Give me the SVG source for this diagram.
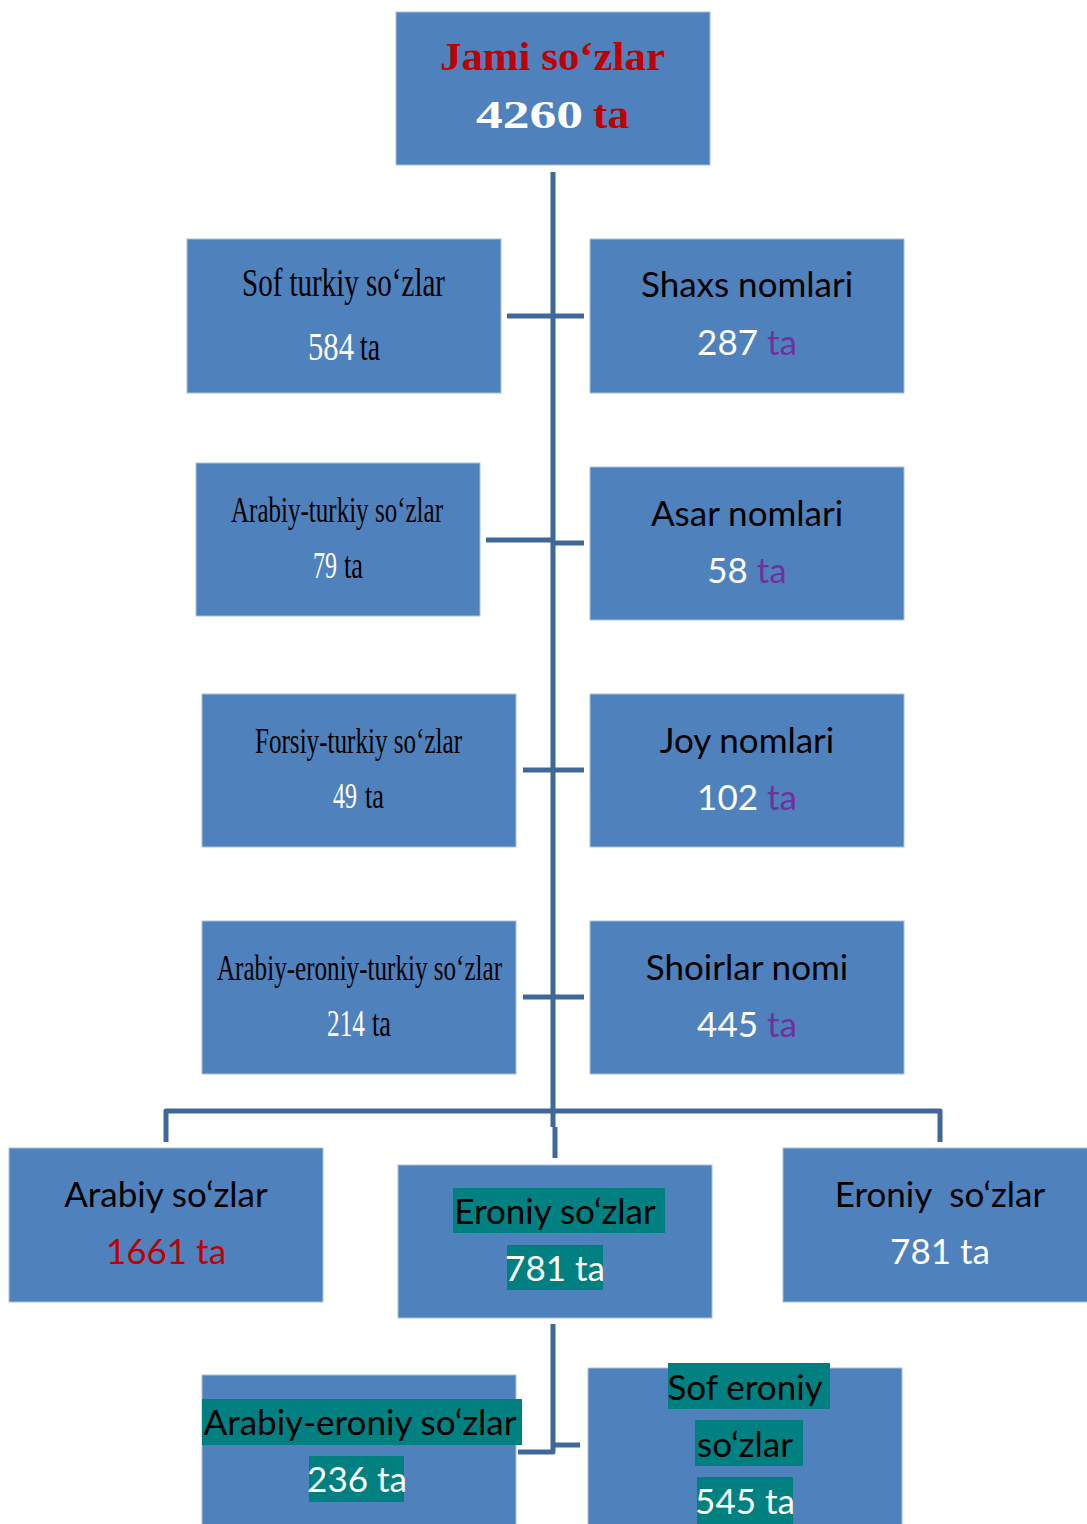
<svg xmlns="http://www.w3.org/2000/svg" width="1087" height="1524" viewBox="0 0 1087 1524">
<style>
.box{fill:#4F81BD;stroke:#A9C0DF;stroke-width:1}
.con{fill:none;stroke:#40679A;stroke-width:5;stroke-linejoin:round}
.hl{fill:#008080}
.ser{font-family:"Liberation Serif","DejaVu Serif",serif;fill:#000}
.bod{font-family:"Liberation Serif","DejaVu Serif",serif;font-weight:bold;font-size:40px}
.sans{font-family:Lato,"Liberation Sans",sans-serif;font-size:35px;fill:#000}
.w{fill:#FFFFFF}
.r{fill:#C00000}
.p{fill:#7030A0}
.k{fill:#000}
</style>
<g id="connectors">
<line class="con" x1="553" y1="172" x2="553" y2="1127"/>
<line class="con" x1="507" y1="316" x2="584" y2="316"/>
<line class="con" x1="486" y1="540" x2="553" y2="540"/>
<line class="con" x1="553" y1="543" x2="584" y2="543"/>
<line class="con" x1="523" y1="770" x2="584" y2="770"/>
<line class="con" x1="523" y1="997" x2="584" y2="997"/>
<polyline class="con" points="166,1142 166,1111 940,1111 940,1142"/>
<line class="con" x1="555" y1="1127" x2="555" y2="1158"/>
<polyline class="con" points="553,1324 553,1452 518,1452"/>
<line class="con" x1="553" y1="1445" x2="580" y2="1445"/>
</g>
<g id="jami">
<rect class="box" x="396" y="12" width="314" height="153"/>
<text class="bod r" x="440" y="70" textLength="225" lengthAdjust="spacingAndGlyphs">Jami so‘zlar</text>
<text class="bod" x="476" y="128"><tspan class="w" textLength="107" lengthAdjust="spacingAndGlyphs">4260</tspan><tspan class="r" x="593" textLength="36" lengthAdjust="spacingAndGlyphs">ta</tspan></text>
</g>
<g id="sof-turkiy">
<rect class="box" x="187" y="239" width="314" height="154"/>
<text class="ser" font-size="40" x="242" y="296" textLength="203" lengthAdjust="spacingAndGlyphs">Sof turkiy so‘zlar</text>
<g transform="translate(0,360) scale(1,1.333)">
<text class="ser" font-size="30" x="308" y="0"><tspan class="w" textLength="46" lengthAdjust="spacingAndGlyphs">584</tspan><tspan class="k" x="360" textLength="20" lengthAdjust="spacingAndGlyphs">ta</tspan></text>
</g>
</g>
<g id="shaxs">
<rect class="box" x="590" y="239" width="314" height="154"/>
<text class="sans" x="747" y="297" text-anchor="middle">Shaxs nomlari</text>
<text class="sans" x="747" y="355" text-anchor="middle"><tspan class="w">287</tspan><tspan class="p"> ta</tspan></text>
</g>
<g id="arabiy-turkiy">
<rect class="box" x="196" y="463" width="284" height="153"/>
<text class="ser" font-size="36" x="231" y="522" textLength="212" lengthAdjust="spacingAndGlyphs">Arabiy-turkiy so‘zlar</text>
<g transform="translate(0,578) scale(1,1.54)">
<text class="ser" font-size="24" x="313" y="0"><tspan class="w" textLength="24" lengthAdjust="spacingAndGlyphs">79</tspan><tspan class="k" x="344" textLength="19" lengthAdjust="spacingAndGlyphs">ta</tspan></text>
</g>
</g>
<g id="asar">
<rect class="box" x="590" y="467" width="314" height="153"/>
<text class="sans" x="747" y="526" text-anchor="middle">Asar nomlari</text>
<text class="sans" x="747" y="583" text-anchor="middle"><tspan class="w">58</tspan><tspan class="p"> ta</tspan></text>
</g>
<g id="forsiy-turkiy">
<rect class="box" x="202" y="694" width="314" height="153"/>
<text class="ser" font-size="36" x="255" y="753" textLength="207" lengthAdjust="spacingAndGlyphs">Forsiy-turkiy so‘zlar</text>
<g transform="translate(0,808) scale(1,1.5)">
<text class="ser" font-size="24" x="333" y="0"><tspan class="w" textLength="24" lengthAdjust="spacingAndGlyphs">49</tspan><tspan class="k" x="365" textLength="19" lengthAdjust="spacingAndGlyphs">ta</tspan></text>
</g>
</g>
<g id="joy">
<rect class="box" x="590" y="694" width="314" height="153"/>
<text class="sans" x="747" y="753" text-anchor="middle">Joy nomlari</text>
<text class="sans" x="747" y="810" text-anchor="middle"><tspan class="w">102</tspan><tspan class="p"> ta</tspan></text>
</g>
<g id="arabiy-eroniy-turkiy">
<rect class="box" x="202" y="921" width="314" height="153"/>
<text class="ser" font-size="36" x="217" y="980" textLength="285" lengthAdjust="spacingAndGlyphs">Arabiy-eroniy-turkiy so‘zlar</text>
<g transform="translate(0,1036) scale(1,1.46)">
<text class="ser" font-size="25.3" x="327" y="0"><tspan class="w" textLength="38" lengthAdjust="spacingAndGlyphs">214</tspan><tspan class="k" x="372" textLength="19" lengthAdjust="spacingAndGlyphs">ta</tspan></text>
</g>
</g>
<g id="shoirlar">
<rect class="box" x="590" y="921" width="314" height="153"/>
<text class="sans" x="747" y="980" text-anchor="middle">Shoirlar nomi</text>
<text class="sans" x="747" y="1037" text-anchor="middle"><tspan class="w">445</tspan><tspan class="p"> ta</tspan></text>
</g>
<g id="arabiy">
<rect class="box" x="9" y="1148" width="314" height="154"/>
<text class="sans" x="166" y="1207" text-anchor="middle">Arabiy so‘zlar</text>
<text class="sans r" x="166" y="1264" text-anchor="middle">1661 ta</text>
</g>
<g id="eroniy-mid">
<rect class="box" x="398" y="1165" width="314" height="153"/>
<rect class="hl" x="453" y="1188" width="212" height="45"/>
<rect class="hl" x="507" y="1245" width="96" height="45"/>
<text class="sans" x="555" y="1224" text-anchor="middle">Eroniy so‘zlar</text>
<text class="sans w" x="555" y="1281" text-anchor="middle">781 ta</text>
</g>
<g id="eroniy-right">
<rect class="box" x="783" y="1148" width="314" height="154"/>
<text class="sans" x="940" y="1207" text-anchor="middle" xml:space="preserve">Eroniy  so‘zlar</text>
<text class="sans w" x="940" y="1264" text-anchor="middle">781 ta</text>
</g>
<g id="arabiy-eroniy">
<rect class="box" x="202" y="1375" width="314" height="155"/>
<rect class="hl" x="202" y="1399" width="320" height="46"/>
<rect class="hl" x="309" y="1456" width="95" height="46"/>
<text class="sans" x="360" y="1435" text-anchor="middle">Arabiy-eroniy so‘zlar</text>
<text class="sans w" x="357" y="1492" text-anchor="middle">236 ta</text>
</g>
<g id="sof-eroniy">
<rect class="box" x="588" y="1368" width="314" height="162"/>
<rect class="hl" x="668" y="1363" width="162" height="46"/>
<rect class="hl" x="695" y="1420" width="108" height="46"/>
<rect class="hl" x="697" y="1477" width="96" height="47"/>
<text class="sans" x="745" y="1400" text-anchor="middle">Sof eroniy</text>
<text class="sans" x="745" y="1457" text-anchor="middle">so‘zlar</text>
<text class="sans w" x="745" y="1514" text-anchor="middle">545 ta</text>
</g>
</svg>
